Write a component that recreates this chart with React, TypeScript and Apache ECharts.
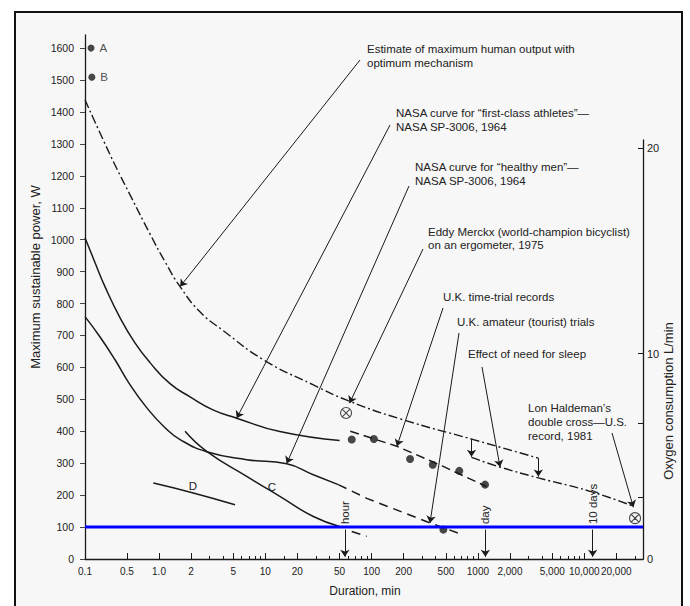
import React, { useEffect, useRef } from "react";
import * as echarts from "echarts";

// ---------- axis ticks ----------
const xTickValues = [0.1, 0.5, 1, 2, 5, 10, 20, 50, 100, 200, 500, 1000, 2000, 5000, 10000, 20000];
const xTickLabels = ["0.1", "0.5", "1.0", "2", "5", "10", "20", "50", "100", "200", "500", "1000", "2,000", "5,000", "10,000", "20,000"];
const xMinorTicks = [3, 4, 6, 7, 8, 9, 15, 30, 40, 60, 70, 80, 90, 300, 400, 600, 700, 800, 900, 3000, 4000, 6000, 7000, 8000, 9000, 30000];
const yTickValues = [0, 100, 200, 300, 400, 500, 600, 700, 800, 900, 1000, 1100, 1200, 1300, 1400, 1500, 1600];
const o2TickValues = [0, 3, 6.6, 10, 20];
const o2LabelValues = [0, 10, 20];

// ---------- series data: [duration (min), power (W)] ----------
const maxOutput: [number, number][] = [
  [0.1, 1438], [0.177, 1335], [0.316, 1234], [0.533, 1141], [0.823, 1018], [1.14, 931], [1.58, 853],
  [2.43, 774], [4.03, 715], [9.6, 624], [28, 546], [60, 496], [185, 439], [905, 374], [3700, 316],
];
const maxOutputSleep: [number, number][] = [[870, 318], [1614, 288], [3700, 254], [11350, 212], [29000, 165]];
const athletes: [number, number][] = [
  [0.1, 1006], [0.147, 928], [0.215, 853], [0.382, 756], [0.594, 677], [0.823, 615], [1.27, 549],
  [1.96, 508], [3.22, 467], [5.38, 441], [13.7, 399], [50, 371],
];
const healthy: [number, number][] = [
  [0.1, 759], [0.177, 696], [0.316, 624], [0.533, 546], [0.766, 474], [1.14, 411], [1.58, 374],
  [2.81, 336], [6.68, 311], [15.9, 298], [28.3, 264], [48.6, 233],
];
const healthyExtrapolated: [number, number][] = [[48.6, 233], [90, 190], [354, 113], [654, 81]];
const curveC: [number, number][] = [[1.76, 400], [2.81, 337], [6.68, 259], [13.7, 196], [28.3, 133], [50, 102]];
const curveCExtrapolated: [number, number][] = [[65, 86], [90, 71]];
const curveD: [number, number][] = [[0.885, 238], [2.1, 207], [5.19, 170]];
const ukRecords: [number, number][] = [[65, 374], [105, 376], [230, 313], [376, 295], [668, 276], [1167, 233]];
const ukRecordsTrend: [number, number][] = [[63, 400], [173, 353], [471, 290], [1200, 227]];
const ukAmateur: [number, number][] = [[473, 92]];
const pointsAB: [number, number][] = [[0.126, 1600], [0.13, 1509]];
const pointsABNames = ["A", "B"];
const merckx: [number, number][] = [[57.5, 457]];
const haldeman: [number, number][] = [[30050, 128]];
const referencePower = 100;
const xDomain = [0.1, 35700];
const sleepDrops: [number, number, number][] = [[870, 374, 320], [3700, 316, 258]];
const timeMarks: [number, string][] = [[56, "hour"], [1175, "day"], [12000, "10 days"]];
const annotationTips: [number, number][] = [
  [1.58, 853], [5.38, 441], [15.9, 299], [62, 488], [173, 353], [354, 113], [1614, 288], [29000, 162],
];

// ---------- layout (pixels) ----------
const FONT = '"Liberation Sans", Arial, Helvetica, sans-serif';
const annotationTails: [number, number][] = [
  [360, 60], [390, 125], [409, 186], [423, 249], [443, 308], [459, 333], [482, 367], [612, 433],
];
const annotationTexts: [string, number, number][] = [
  ["Estimate of maximum human output with", 367, 49],
  ["optimum mechanism", 367, 63],
  ["NASA curve for \u201cfirst-class athletes\u201d\u2014", 396, 113],
  ["NASA SP-3006, 1964", 396, 127],
  ["NASA curve for \u201chealthy men\u201d\u2014", 415, 167],
  ["NASA SP-3006, 1964", 415, 181],
  ["Eddy Merckx (world-champion bicyclist)", 428, 232],
  ["on an ergometer, 1975", 428, 245],
  ["U.K. time-trial records", 443, 297],
  ["U.K. amateur (tourist) trials", 457, 322],
  ["Effect of need for sleep", 468, 354],
  ["Lon Haldeman\u2019s", 528, 408],
  ["double cross\u2014U.S.", 528, 422],
  ["record, 1981", 528, 436],
];

// piecewise log scale: the first segment (0.1–0.5) is compressed in the original figure
const LOG05 = Math.log10(0.5);
const COMPRESS = 0.565;
function tx(d: number): number {
  const l = Math.log10(d);
  return l >= LOG05 ? l : LOG05 + (l - LOG05) * COMPRESS;
}
const X_MIN = tx(xDomain[0]);
const X_MAX = tx(xDomain[1]);
const pts = (arr: [number, number][]) => arr.map(([d, w]) => [tx(d), w]);

const INK = "#1a1a1a";
const CROSS_CIRCLE =
  "path://M10,0A10,10,0,1,1,-10,0A10,10,0,1,1,10,0ZM-7.07,-7.07L7.07,7.07M7.07,-7.07L-7.07,7.07";

function lineSeries(data: [number, number][], type: any, width = 1.4, smooth: any = 0.5) {
  return {
    type: "line",
    xAxisIndex: 0,
    yAxisIndex: 0,
    data: pts(data),
    smooth,
    symbol: "none",
    showSymbol: false,
    silent: true,
    lineStyle: { color: INK, width, type },
    z: 3,
  };
}

export default function App() {
  const ref = useRef<HTMLDivElement>(null);
  useEffect(() => {
    document.body.style.margin = "0";
    const chart = echarts.init(ref.current!, null, { renderer: "svg" });
    const axisText = { color: "#222", fontFamily: FONT, fontSize: 10.5 };
    const arrowLines: any[] = [];
    annotationTails.forEach((p, i) => {
      arrowLines.push([{ x: p[0], y: p[1] }, { coord: [tx(annotationTips[i][0]), annotationTips[i][1]] }]);
    });
    sleepDrops.forEach(([d, a, b]) => {
      arrowLines.push([{ coord: [tx(d), a] }, { coord: [tx(d), b] }]);
    });
    timeMarks.forEach(([d]) => {
      arrowLines.push([{ coord: [tx(d), 92] }, { coord: [tx(d), 7] }]);
    });

    const option: any = {
      animation: false,
      backgroundColor: "transparent",
      textStyle: { fontFamily: FONT },
      grid: [
        { left: 85, right: 47, top: 35, bottom: 47 },
        { left: 85, right: 47, top: 140, bottom: 47 },
      ],
      xAxis: [
        {
          gridIndex: 0,
          type: "value",
          min: X_MIN,
          max: X_MAX,
          axisLine: { show: true, onZero: false, lineStyle: { color: INK, width: 1.3 } },
          axisTick: { show: true, inside: true, length: 6, customValues: xTickValues.map(tx), lineStyle: { color: INK } },
          axisLabel: {
            ...axisText,
            fontSize: 10,
            margin: 7,
            customValues: xTickValues.map(tx),
            formatter: (v: number) => {
              const i = xTickValues.findIndex((d) => Math.abs(tx(d) - v) < 1e-6);
              return i >= 0 ? xTickLabels[i] : "";
            },
          },
          splitLine: { show: false },
        },
        {
          gridIndex: 1,
          type: "value",
          min: X_MIN,
          max: X_MAX,
          axisLine: { show: false, onZero: false },
          axisTick: { show: true, inside: true, length: 3, customValues: xMinorTicks.map(tx), lineStyle: { color: INK } },
          axisLabel: { show: false },
          splitLine: { show: false },
        },
      ],
      yAxis: [
        {
          gridIndex: 0,
          type: "value",
          min: 0,
          max: 1641,
          axisLine: { show: true, onZero: false, lineStyle: { color: INK, width: 1.3 } },
          axisTick: { show: true, inside: false, length: 5, customValues: yTickValues, lineStyle: { color: "#444" } },
          axisLabel: { ...axisText, margin: 11, customValues: yTickValues, formatter: (v: number) => String(Math.round(v)) },
          splitLine: { show: false },
        },
        {
          gridIndex: 1,
          type: "value",
          position: "right",
          min: 0,
          max: 20.4,
          axisLine: { show: true, onZero: false, lineStyle: { color: INK, width: 1.3 } },
          axisTick: { show: true, inside: true, length: 5, customValues: o2TickValues, lineStyle: { color: INK } },
          axisLabel: { ...axisText, fontSize: 11, margin: 4, customValues: o2LabelValues, formatter: (v: number) => String(Math.round(v)) },
          splitLine: { show: false },
        },
      ],
      series: [
        lineSeries(maxOutput, [9, 3, 2, 3], 1.4),
        lineSeries(maxOutputSleep, [9, 3, 2, 3], 1.4),
        lineSeries(athletes, "solid", 1.5),
        lineSeries(healthy, "solid", 1.5),
        lineSeries(healthyExtrapolated, [9, 6], 1.5, false),
        lineSeries(curveC, "solid", 1.5),
        lineSeries(curveCExtrapolated, [9, 6], 1.5, false),
        lineSeries(curveD, "solid", 1.5),
        lineSeries(ukRecordsTrend, [9, 5], 1.5, false),
        {
          type: "scatter",
          data: pts(ukRecords),
          symbol: "circle",
          symbolSize: 8,
          itemStyle: { color: INK },
          silent: true,
          z: 4,
        },
        {
          type: "scatter",
          data: pts(ukAmateur),
          symbol: "circle",
          symbolSize: 8,
          itemStyle: { color: INK },
          silent: true,
          z: 4,
        },
        {
          type: "scatter",
          data: pts(pointsAB).map((p, i) => ({ value: p, name: pointsABNames[i] })),
          symbol: "circle",
          symbolSize: 7,
          itemStyle: { color: INK },
          label: {
            show: true,
            position: "right",
            distance: 5,
            formatter: (p: any) => p.name,
            color: "#222",
            fontFamily: FONT,
            fontSize: 11.5,
          },
          silent: true,
          z: 4,
        },
        {
          type: "scatter",
          data: pts(merckx.concat(haldeman)),
          symbol: CROSS_CIRCLE,
          symbolSize: 11,
          itemStyle: { color: "rgba(0,0,0,0)", borderColor: INK, borderWidth: 1.1 },
          silent: true,
          z: 4,
        },
        {
          type: "line",
          data: [[X_MIN, referencePower], [X_MAX, referencePower]],
          symbol: "none",
          showSymbol: false,
          silent: true,
          lineStyle: { color: "#0000ff", width: 3 },
          z: 5,
          markLine: {
            silent: true,
            animation: false,
            symbol: ["none", "arrow"],
            symbolSize: 7,
            label: { show: false },
            emphasis: { disabled: true },
            lineStyle: { color: INK, width: 1, type: "solid" },
            data: arrowLines,
          },
        },
      ],
    };
    chart.setOption(option);

    const blueY = (chart.convertToPixel({ xAxisIndex: 0, yAxisIndex: 0 }, [0, referencePower]) as number[])[1];
    const text = (t: string, x: number, y: number, extra: any = {}) => ({
      type: "text",
      x,
      y,
      silent: true,
      z: 10,
      ...extra,
      style: {
        text: t,
        fill: "#222",
        fontFamily: FONT,
        fontSize: 11.5,
        align: "left",
        textAlign: "left",
        verticalAlign: "middle",
        textVerticalAlign: "middle",
        ...(extra.style || {}),
      },
    });
    const graphics: any[] = annotationTexts.map(([t, x, y]) => text(t, x, y));
    timeMarks.forEach(([d, label]) => {
      const px = (chart.convertToPixel({ xAxisIndex: 0, yAxisIndex: 0 }, [tx(d), referencePower]) as number[])[0];
      graphics.push(text(label, px, blueY - 3, { rotation: Math.PI / 2 }));
    });
    graphics.push(text("D", 193, 486, { style: { align: "center", textAlign: "center" } }));
    graphics.push(text("C", 272, 487, { style: { align: "center", textAlign: "center" } }));
    graphics.push(
      text("Maximum sustainable power, W", 35, 277, {
        rotation: Math.PI / 2,
        style: { align: "center", textAlign: "center", fontSize: 13 },
      })
    );
    graphics.push(
      text("Oxygen consumption L/min", 668, 401, {
        rotation: Math.PI / 2,
        style: { align: "center", textAlign: "center", fontSize: 13 },
      })
    );
    graphics.push(text("Duration, min", 365, 591, { style: { align: "center", textAlign: "center", fontSize: 12 } }));
    chart.setOption({ graphic: graphics });

    return () => chart.dispose();
  }, []);

  return (
    <div style={{ position: "relative", width: 690, height: 606, background: "#ffffff", overflow: "hidden" }}>
      <div
        style={{
          position: "absolute",
          left: 14,
          top: 11,
          width: 669,
          height: 610,
          border: "2px solid #111",
          background: "#f7f7f7",
          boxSizing: "border-box",
        }}
      />
      <div ref={ref} style={{ position: "absolute", left: 0, top: 0, width: 690, height: 606 }} />
    </div>
  );
}
